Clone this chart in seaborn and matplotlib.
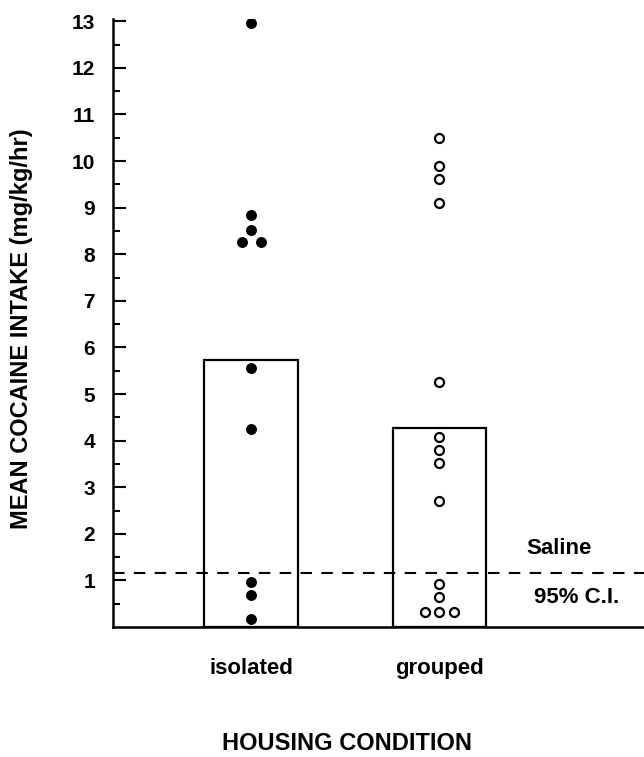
import matplotlib
matplotlib.use("Agg")
import matplotlib.pyplot as plt
import seaborn as sns
import pandas as pd
import numpy as np

# group means (bars)
conditions = ["isolated", "grouped"]
means = [5.74, 4.28]

# individual animals
isolated_vals = [12.96, 8.85, 8.53, 8.27, 8.27, 5.56, 4.24, 0.96, 0.68, 0.17]
grouped_vals = [10.49, 9.89, 9.62, 9.10, 5.25, 4.07, 3.80, 3.52, 2.71,
                0.92, 0.64, 0.32, 0.32, 0.32]

saline_ci = 1.17

sns.set_style("ticks")
plt.rcParams["font.family"] = ["Liberation Sans", "DejaVu Sans"]
plt.rcParams["font.weight"] = "bold"
for k in ["text.color", "axes.labelcolor", "xtick.color", "ytick.color", "axes.edgecolor"]:
    plt.rcParams[k] = "black"


def spread(vals, step):
    # put tied values side by side, centred on the group
    vals = np.asarray(vals)
    off = np.zeros(len(vals))
    for v in np.unique(vals):
        idx = np.where(vals == v)[0]
        off[idx] = (np.arange(len(idx)) - (len(idx) - 1) / 2) * step
    return off


def main():
    fig = plt.figure(figsize=(6.44, 7.57), dpi=100)
    ax = fig.add_axes([0.1755, 0.1717, 0.8245, 0.8033])

    bars = pd.DataFrame({"cond": conditions, "mean": means})
    sns.barplot(data=bars, x="cond", y="mean", order=conditions, color="white",
                edgecolor="black", linewidth=1.6, width=0.495, ax=ax, zorder=1)

    iso = pd.DataFrame({"pos": 0 + spread(isolated_vals, 0.101), "val": isolated_vals})
    grp = pd.DataFrame({"pos": 1 + spread(grouped_vals, 0.077), "val": grouped_vals})
    sns.scatterplot(data=iso, x="pos", y="val", color="black", s=62, linewidth=0,
                    ax=ax, zorder=3)
    sns.scatterplot(data=grp, x="pos", y="val", color="white", edgecolor="black",
                    linewidth=1.6, s=42, ax=ax, zorder=3)

    ax.axhline(saline_ci, color="black", lw=1.5, ls=(0, (5.5, 4.5)), zorder=2)
    ax.text(1.64, 1.69, "Saline", ha="center", va="center", fontsize=16, fontweight="bold")
    ax.text(1.73, 0.64, "95% C.I.", ha="center", va="center", fontsize=16, fontweight="bold")

    ax.set_xlim(-0.734, 2.09)
    ax.set_ylim(0, 13.05)
    ax.set_xticks([0, 1])
    ax.set_xticklabels(conditions)
    ax.set_yticks(np.arange(1, 14))
    ax.set_yticks(np.arange(0.5, 13.5, 1), minor=True)
    ax.tick_params(axis="y", which="major", direction="in", length=9, width=1.5,
                   labelsize=15, pad=13)
    ax.tick_params(axis="y", which="minor", direction="in", length=5, width=1.5)
    ax.tick_params(axis="x", length=0, labelsize=16, pad=22)
    for lab in ax.get_yticklabels() + ax.get_xticklabels():
        lab.set_fontweight("bold")

    sns.despine(ax=ax)
    ax.spines["left"].set_linewidth(1.8)
    ax.spines["bottom"].set_linewidth(1.8)

    ax.set_xlabel("HOUSING CONDITION", fontsize=17, fontweight="bold")
    ax.set_ylabel("MEAN COCAINE INTAKE (mg/kg/hr)", fontsize=17, fontweight="bold")
    ax.xaxis.set_label_coords(0.44, -0.172)
    ax.yaxis.set_label_coords(-0.15, 0.49)

    fig.savefig("out.png", dpi=100)


if __name__ == "__main__":
    main()
